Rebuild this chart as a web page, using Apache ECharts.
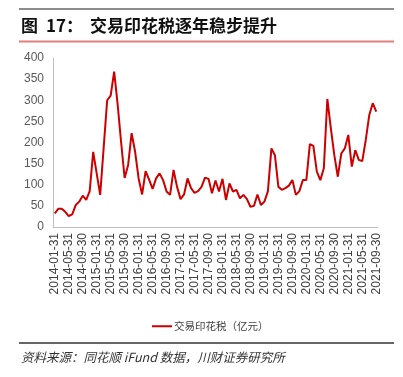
<!DOCTYPE html>
<html>
<head>
<meta charset="utf-8">
<script src="https://cdn.jsdelivr.net/npm/echarts@6/dist/echarts.min.js"></script>
<style>
html,body{margin:0;padding:0;background:#fff;}
#c{width:403px;height:377px;}
</style>
</head>
<body>
<div id="c"></div>
<script>
var titleLabel = '图';
var titleNumber = '17：';
var titleText = '交易印花税逐年稳步提升';
var sourceText = '资料来源：同花顺 iFund 数据，川财证券研究所';
var seriesName = '交易印花税（亿元）';

var categories = [
'2014-01-31','2014-02-28','2014-03-31','2014-04-30','2014-05-31','2014-06-30','2014-07-31','2014-08-31','2014-09-30','2014-10-31','2014-11-30','2014-12-31',
'2015-01-31','2015-02-28','2015-03-31','2015-04-30','2015-05-31','2015-06-30','2015-07-31','2015-08-31','2015-09-30','2015-10-31','2015-11-30','2015-12-31',
'2016-01-31','2016-02-29','2016-03-31','2016-04-30','2016-05-31','2016-06-30','2016-07-31','2016-08-31','2016-09-30','2016-10-31','2016-11-30','2016-12-31',
'2017-01-31','2017-02-28','2017-03-31','2017-04-30','2017-05-31','2017-06-30','2017-07-31','2017-08-31','2017-09-30','2017-10-31','2017-11-30','2017-12-31',
'2018-01-31','2018-02-28','2018-03-31','2018-04-30','2018-05-31','2018-06-30','2018-07-31','2018-08-31','2018-09-30','2018-10-31','2018-11-30','2018-12-31',
'2019-01-31','2019-02-28','2019-03-31','2019-04-30','2019-05-31','2019-06-30','2019-07-31','2019-08-31','2019-09-30','2019-10-31','2019-11-30','2019-12-31',
'2020-01-31','2020-02-29','2020-03-31','2020-04-30','2020-05-31','2020-06-30','2020-07-31','2020-08-31','2020-09-30','2020-10-31','2020-11-30','2020-12-31',
'2021-01-31','2021-02-28','2021-03-31','2021-04-30','2021-05-31','2021-06-30','2021-07-31','2021-08-31','2021-09-30'
];

var stampTax = [
32,43,43,36,26,30,52,60,74,64,85,178,
127,76,188,300,311,368,290,200,116,147,222,178,
115,77,132,112,90,115,127,111,84,76,135,95,
66,77,115,92,81,85,95,117,114,80,110,84,
114,64,103,84,88,68,76,66,48,50,77,52,
60,85,186,170,95,88,92,98,111,76,85,111,
111,196,192,131,111,139,303,234,170,119,174,186,
218,143,182,159,156,206,265,293,273
];

var yMin = 0, yMax = 400, yStep = 50;

var titleFont = 'bold 17px "Noto Sans CJK SC", sans-serif';

var chart = echarts.init(document.getElementById('c'), null, {renderer: 'canvas'});
chart.setOption({
  animation: false,
  backgroundColor: '#ffffff',
  grid: {left: 53, right: 25, top: 58, bottom: 150, containLabel: false},
  graphic: [
    {type: 'line', shape: {x1: 19, y1: 9, x2: 394, y2: 9}, style: {stroke: '#8c8c8c', lineWidth: 2}},
    {type: 'text', x: 21, y: 26, style: {text: titleLabel, font: titleFont, fill: '#111111', verticalAlign: 'middle'}},
    {type: 'text', x: 46, y: 26, style: {text: titleNumber, font: titleFont, fill: '#111111', verticalAlign: 'middle'}},
    {type: 'text', x: 90, y: 26, style: {text: titleText, font: titleFont, fill: '#111111', verticalAlign: 'middle'}},
    {type: 'line', shape: {x1: 19, y1: 41.5, x2: 394, y2: 41.5}, style: {stroke: '#e47f7f', lineWidth: 2}},
    {type: 'line', shape: {x1: 19, y1: 343, x2: 394, y2: 343}, style: {stroke: '#333333', lineWidth: 1.5}},
    {type: 'text', x: 21, y: 357, style: {text: sourceText, font: 'italic 12.5px "Noto Sans CJK SC", sans-serif', fill: '#333333', verticalAlign: 'middle'}}
  ],
  legend: {
    show: true,
    left: 147,
    top: 316,
    itemWidth: 20,
    itemHeight: 2,
    itemGap: 4,
    icon: 'rect',
    textStyle: {fontSize: 10.5, color: '#404040', fontFamily: '"Noto Sans CJK SC", sans-serif', padding: [0,0,0,-3]},
    data: [seriesName]
  },
  xAxis: {
    type: 'category',
    data: categories,
    boundaryGap: true,
    axisLine: {show: true, lineStyle: {color: '#bfbfbf', width: 1}},
    axisTick: {show: false},
    axisLabel: {
      interval: 3,
      rotate: 90,
      margin: 6,
      fontSize: 12,
      color: '#404040',
      fontFamily: '"Liberation Sans", sans-serif'
    },
    splitLine: {show: false}
  },
  yAxis: {
    type: 'value',
    min: yMin,
    max: yMax,
    interval: yStep,
    axisLine: {show: true, lineStyle: {color: '#bfbfbf', width: 1}},
    axisTick: {show: false},
    axisLabel: {
      margin: 9,
      fontSize: 12,
      color: '#595959',
      fontFamily: '"Liberation Sans Narrow", "Liberation Sans", sans-serif'
    },
    splitLine: {show: false}
  },
  series: [{
    name: seriesName,
    type: 'line',
    data: stampTax,
    symbol: 'none',
    smooth: false,
    lineStyle: {color: '#cc0000', width: 2},
    itemStyle: {color: '#cc0000'}
  }]
});
</script>
</body>
</html>
